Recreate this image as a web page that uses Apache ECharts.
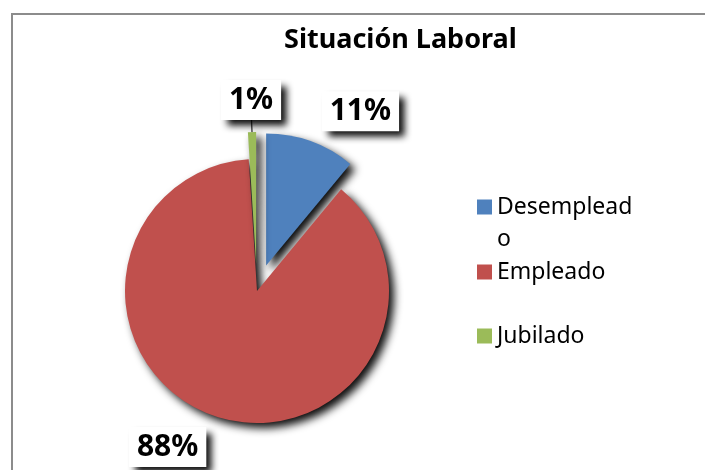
<!DOCTYPE html>
<html><head><meta charset="utf-8">
<script src="https://cdn.jsdelivr.net/npm/echarts@6/dist/echarts.min.js"></script>
<style>html,body{margin:0;padding:0;background:#fff}#c{width:705px;height:470px}</style>
</head><body><div id="c"></div>
<script>
const title = 'Situación Laboral';
const categories = ['Desempleado', 'Empleado', 'Jubilado'];
const values = [11, 88, 1];
const exploded = [true, false, true];
const colors = ['#4F81BD', '#C0504D', '#9BBB59'];

const chart = echarts.init(document.getElementById('c'), null, {renderer: 'canvas'});
const legendFont = {fontFamily: 'Noto Sans', fontSize: 23, color: '#000', lineHeight: 32};
const legendTops = [159, 256, 320];
const legends = categories.map((name, i) => ({
  data: [{name: name, icon: 'rect'}],
  orient: 'vertical', left: 477, top: legendTops[i], padding: 0,
  itemWidth: 15, itemHeight: 15, selectedMode: false,
  formatter: i === 0 ? (n => '\n' + n) : undefined,
  textStyle: Object.assign({}, legendFont, i === 0 ? {width: 140, overflow: 'breakAll'} : {})
}));

chart.setOption({
  animation: false,
  backgroundColor: '#fff',
  color: colors,
  title: {text: title, left: 279, top: 22,
    textStyle: {fontFamily: 'Noto Sans', fontWeight: 'bold', fontSize: 27, color: '#000'}},
  legend: legends,
  graphic: [{type: 'rect', shape: {x: 12, y: 14, width: 800, height: 600},
    style: {fill: 'none', stroke: '#8c8c8c', lineWidth: 2}, silent: true, z: -1}],
  series: [{
    type: 'pie',
    center: [257, 291],
    radius: 132,
    startAngle: 90,
    clockwise: true,
    avoidLabelOverlap: false,
    selectedMode: 'multiple',
    selectedOffset: 27,
    emphasis: {disabled: true},
    itemStyle: {shadowBlur: 8, shadowColor: 'rgba(0,0,0,0.95)', shadowOffsetX: 5, shadowOffsetY: 5},
    label: {
      show: true, position: 'outside', formatter: '{d}%',
      fontFamily: 'Noto Sans', fontWeight: 'bold', fontSize: 30, color: '#000',
      backgroundColor: '#fff', padding: [5, 8],
      shadowColor: 'rgba(0,0,0,0.95)', shadowBlur: 7, shadowOffsetX: 6, shadowOffsetY: 6,
      distanceToLabelLine: 0
    },
    labelLine: {show: false, length: 32, length2: 0, lineStyle: {color: '#000', width: 1}},
    labelLayout: function (p) { return p.dataIndex === 2 ? {align: 'center'} : {}; },
    data: categories.map((name, i) => ({
      name: name, value: values[i], selected: exploded[i],
      labelLine: {show: i === 2}
    }))
  }]
});
</script></body></html>
